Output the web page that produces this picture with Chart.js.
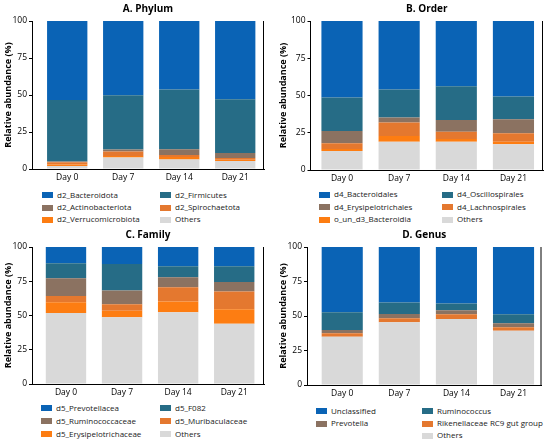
<!DOCTYPE html>
<html><head><meta charset="utf-8">
<script src="https://cdn.jsdelivr.net/npm/chart.js@4.4.0/dist/chart.umd.min.js"></script>
<style>
html,body{margin:0;padding:0;background:#fff;}
body{width:550px;height:446px;position:relative;overflow:hidden;font-family:'Open Sans',sans-serif;}
.panel{position:absolute;width:275px;}
.panel canvas{position:absolute;left:0;top:0;}
.lg{position:absolute;font-size:8px;color:#1a1a1a;white-space:nowrap;line-height:10px;}
.sw{position:absolute;width:11px;height:6px;}
</style></head><body>
<script>
// ---- shared categories / ticks ----
const days = ['Day 0', 'Day 7', 'Day 14', 'Day 21'];
const yTicks = [0, 25, 50, 75, 100];

// ---- A. Phylum ----
const phylumNames = ['d2_Bacteroidota', 'd2_Firmicutes', 'd2_Actinobacteriota', 'd2_Spirochaetota', 'd2_Verrucomicrobiota', 'Others'];
const phylumBacteroidota = [53.4, 50.2, 46.2, 52.9];
const phylumFirmicutes = [41.6, 36.7, 40.5, 36.3];
const phylumActinobacteriota = [0.5, 1.2, 3.8, 3.4];
const phylumSpirochaetota = [1.5, 3.2, 1.4, 1.2];
const phylumVerrucomicrobiota = [1.0, 1.0, 1.6, 0.8];
const phylumOthers = [2.0, 7.7, 6.5, 5.4];

// ---- B. Order ----
const orderNames = ['d4_Bacteroidales', 'd4_Oscillospirales', 'd4_Erysipelotrichales', 'd4_Lachnospirales', 'o_un_d3_Bacteroidia', 'Others'];
const orderBacteroidales = [51.3, 46.0, 43.8, 50.6];
const orderOscillospirales = [22.6, 18.7, 22.7, 15.4];
const orderErysipelotrichales = [8.2, 3.4, 7.9, 9.4];
const orderLachnospirales = [3.8, 9.1, 4.8, 5.6];
const orderUnD3Bacteroidia = [1.4, 3.8, 1.8, 1.8];
const orderOthers = [12.7, 19.0, 19.0, 17.2];

// ---- C. Family ----
const familyNames = ['d5_Prevotellacea', 'd5_F082', 'd5_Ruminococcaceae', 'd5_Muribaculaceae', 'd5_Erysipelotrichaceae', 'Others'];
const familyPrevotellacea = [11.8, 12.4, 14.1, 14.1];
const familyF082 = [11.0, 19.3, 7.9, 11.5];
const familyRuminococcaceae = [12.9, 10.0, 7.3, 6.8];
const familyMuribaculaceae = [4.6, 4.9, 10.5, 13.0];
const familyErysipelotrichaceae = [7.9, 4.6, 7.8, 10.7];
const familyOthers = [51.8, 48.8, 52.4, 43.9];

// ---- D. Genus ----
const genusNames = ['Unclassified', 'Ruminococcus', 'Prevotella', 'Rikenellaceae RC9 gut group', 'Others'];
const genusUnclassified = [47.3, 40.2, 40.9, 48.7];
const genusRuminococcus = [12.8, 8.3, 4.9, 6.5];
const genusPrevotella = [2.4, 3.1, 2.9, 2.9];
const genusRikenellaceaeRC9 = [2.5, 2.9, 3.5, 2.5];
const genusOthers = [35.0, 45.5, 47.8, 39.4];

// ---- styles ----
const BLUE = '#0a63b5', TEAL = '#266c86', BROWN = '#8b7261', ORANGE_M = '#e4782f', ORANGE_B = '#fd7d12', GRAY = '#d9d9d9';
const FONT = "'Open Sans', sans-serif";

const panels = [
  { title: 'A. Phylum', names: phylumNames,
    series: [phylumBacteroidota, phylumFirmicutes, phylumActinobacteriota, phylumSpirochaetota, phylumVerrucomicrobiota, phylumOthers],
    colors: [BLUE, TEAL, BROWN, ORANGE_M, ORANGE_B, GRAY],
    pos: { x: 0, y: 0 }, L: 32, R: 264, B: 169, xmin: -0.629, xmax: 3.514,
    lg: { c1: 42, c2: 160, rows: [195, 207.5, 219.5] } },
  { title: 'B. Order', names: orderNames,
    series: [orderBacteroidales, orderOscillospirales, orderErysipelotrichales, orderLachnospirales, orderUnD3Bacteroidia, orderOthers],
    colors: [BLUE, TEAL, BROWN, ORANGE_M, ORANGE_B, GRAY],
    pos: { x: 275, y: 0 }, L: 35.5, R: 268, B: 170, xmin: -0.551, xmax: 3.517,
    lg: { c1: 44, c2: 167, rows: [194.5, 207, 219.5] } },
  { title: 'C. Family', names: familyNames,
    series: [familyPrevotellacea, familyF082, familyRuminococcaceae, familyMuribaculaceae, familyErysipelotrichaceae, familyOthers],
    colors: [BLUE, TEAL, BROWN, ORANGE_M, ORANGE_B, GRAY],
    pos: { x: 0, y: 226 }, L: 32, R: 264, B: 158, xmin: -0.606, xmax: 3.531,
    lg: { c1: 41, c2: 160, rows: [408, 421, 434] } },
  { title: 'D. Genus', names: genusNames,
    series: [genusUnclassified, genusRuminococcus, genusPrevotella, genusRikenellaceaeRC9, genusOthers],
    colors: [BLUE, TEAL, BROWN, ORANGE_M, GRAY],
    pos: { x: 275, y: 226 }, L: 32, R: 266.5, B: 159, xmin: -0.617, xmax: 3.49,
    lg: { c1: 41, c2: 147, rows: [411, 423.5, 435.5] } }
];

const rightBorder = {
  id: 'rightBorder',
  afterDraw(chart) {
    const { ctx, chartArea } = chart;
    ctx.save();
    ctx.strokeStyle = '#000';
    ctx.lineWidth = 1;
    ctx.beginPath();
    ctx.moveTo(chartArea.right - 0.5, chartArea.top);
    ctx.lineTo(chartArea.right - 0.5, chartArea.bottom);
    ctx.stroke();
    ctx.restore();
  }
};

panels.forEach(p => {
  const div = document.createElement('div');
  div.className = 'panel';
  div.style.left = p.pos.x + 'px';
  div.style.top = p.pos.y + 'px';
  const H = Math.round(p.B + 18);
  div.style.height = H + 'px';
  const cv = document.createElement('canvas');
  cv.width = 275; cv.height = H;
  cv.style.width = '275px'; cv.style.height = H + 'px';
  div.appendChild(cv);
  document.body.appendChild(div);

  // stack: first legend entry on top -> reverse order for datasets
  const datasets = p.series.map((s, i) => ({
    label: p.names[i], data: s, backgroundColor: p.colors[i], borderWidth: 0,
    barPercentage: 0.72, categoryPercentage: 1
  })).reverse();

  new Chart(cv, {
    type: 'bar',
    data: { labels: days.map((d, i) => i), datasets },
    options: {
      responsive: false, animation: false,
      layout: { padding: { left: 0, right: 275 - p.R, top: 0, bottom: 0 } },
      plugins: {
        legend: { display: false }, tooltip: { enabled: false },
        title: { display: true, text: p.title, fullSize: false, color: '#000',
                 font: { family: FONT, size: 10, weight: 'bold' }, padding: { top: 3.5, bottom: 5.5 } }
      },
      scales: {
        x: {
          type: 'linear', stacked: true, min: p.xmin, max: p.xmax, offset: false, bounds: 'data',
          afterBuildTicks: s => { s.ticks = days.map((d, i) => ({ value: i })); },
          afterFit: s => { s.height = 18; s.paddingLeft = 0; s.paddingRight = 0; },
          grid: { display: false, drawTicks: false, offset: false },
          border: { display: true, color: '#000', width: 1 },
          ticks: { color: '#000', padding: 3, font: { family: FONT, size: 8.5 }, autoSkip: false, maxRotation: 0,
                   callback: v => days[Math.round(v)] }
        },
        y: {
          stacked: true, min: 0, max: 100,
          afterBuildTicks: s => { s.ticks = yTicks.map(v => ({ value: v })); },
          afterFit: s => { s.width = p.L; },
          grid: { display: true, drawOnChartArea: false, drawTicks: true, tickLength: 3, color: '#000' },
          border: { display: true, color: '#000', width: 1 },
          ticks: { color: '#000', padding: 2, font: { family: FONT, size: 8.5 } },
          title: { display: true, text: 'Relative abundance (%)', color: '#000',
                   font: { family: FONT, size: 9, weight: 'bold' }, padding: { top: 3, bottom: 0 } }
        }
      }
    },
    plugins: [rightBorder]
  });

  // HTML legend, two columns row-major; a lone last item sits in column 2
  const n = p.names.length;
  p.names.forEach((name, i) => {
    let col = i % 2, row = Math.floor(i / 2);
    if (n % 2 === 1 && i === n - 1) col = 1;
    const cx = col === 0 ? p.lg.c1 : p.lg.c2;
    const cy = p.lg.rows[row] - p.pos.y;
    const sw = document.createElement('div');
    sw.className = 'sw';
    sw.style.left = cx + 'px';
    sw.style.top = (cy - 3) + 'px';
    sw.style.background = p.colors[i];
    div.appendChild(sw);
    const t = document.createElement('div');
    t.className = 'lg';
    t.textContent = name;
    t.style.left = (cx + 15) + 'px';
    t.style.top = (cy - 5.5) + 'px';
    div.appendChild(t);
  });
});
</script>
</body></html>
